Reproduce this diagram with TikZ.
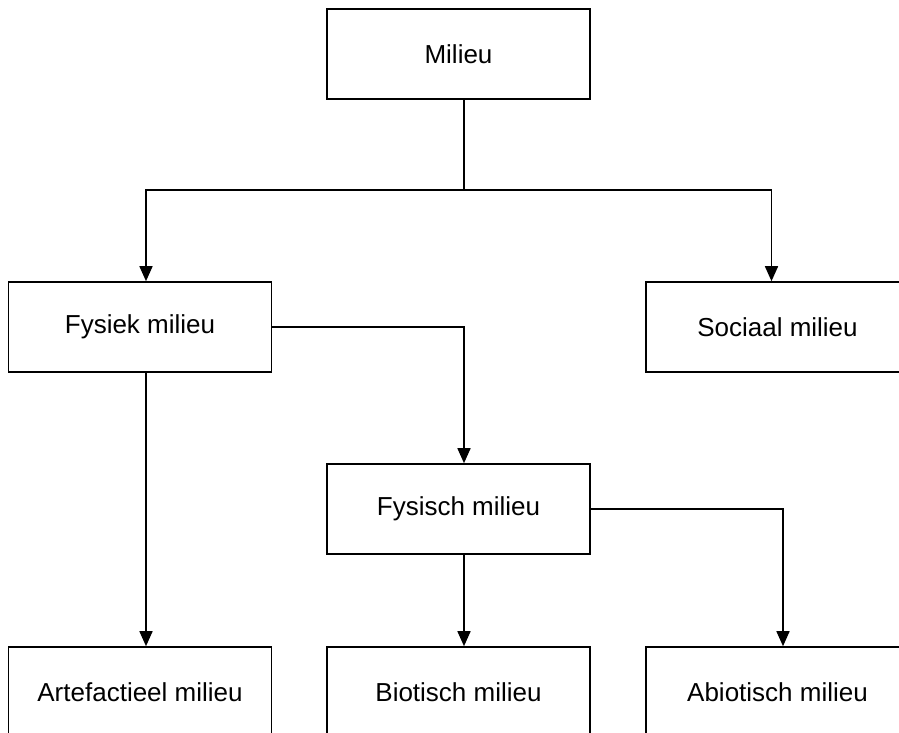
\documentclass[tikz,border=0pt]{standalone}
\usepackage{fontspec}
\setmainfont{Liberation Sans}
\usetikzlibrary{arrows.meta,calc}
\begin{document}
\begin{tikzpicture}[x=1pt,y=-1pt,
  box/.style={draw,line width=1.6pt,minimum width=263pt,minimum height=90pt,inner sep=0pt,font=\fontsize{26}{30}\selectfont},
  conn/.style={line width=1.6pt},
  arr/.style={line width=1.6pt,-{Triangle[length=15pt,width=13pt]}}]
\clip (0,0) rectangle (899,733);
\node[box] (m) at (458.5,54) {Milieu};
\node[box] (fy) at (140,327) {Fysiek milieu};
\node[box] (so) at (777.5,327) {Sociaal milieu};
\node[box] (fs) at (458.5,509) {Fysisch milieu};
\node[box] (ar) at (140,692) {Artefactieel milieu};
\node[box] (bi) at (458.5,692) {Biotisch milieu};
\node[box] (ab) at (777.5,692) {Abiotisch milieu};
\coordinate (j) at (464,190);
\draw[conn] ([xshift=5.5pt]m.south) -- (j);
\draw[arr] (j) -| ([xshift=6pt]fy.north);
\draw[arr] (j) -| ([xshift=-6pt]so.north);
\draw[arr] (fy.east) -| ([xshift=5.5pt]fs.north);
\draw[arr] ([xshift=6pt]fy.south) -- ([xshift=6pt]ar.north);
\draw[arr] ([xshift=5.5pt]fs.south) -- ([xshift=5.5pt]bi.north);
\draw[arr] (fs.east) -| ([xshift=5.5pt]ab.north);
\end{tikzpicture}
\end{document}
